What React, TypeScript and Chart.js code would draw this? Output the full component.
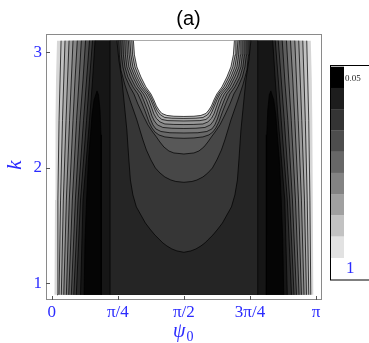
import React, { useEffect, useRef } from 'react';
import { Chart, registerables } from 'chart.js';

Chart.register(...registerables);

const PI = Math.PI;

// ---- axes ----
const xTickValues = [0, PI / 4, PI / 2, (3 * PI) / 4, PI];
const xTickLabels = ['0', 'π/4', 'π/2', '3π/4', 'π'];
const yTickValues = [1, 2, 3];
const yTickLabels = ['1', '2', '3'];
const xRange = [-0.068, 3.212];
const yRange = [0.855, 3.158];

// ---- data domain ----
const kBottom = 0.9;
const kTop = 3.1;

// ---- side bands (left half; right half is the mirror image about π/2) ----
const sideK = [0.9, 1.72, 2.41, 2.76, 3.1];
const sideLines = [
  [0.033, 0.039, 0.045, 0.051, 0.063],
  [0.063, 0.073, 0.087, 0.099, 0.111],
  [0.087, 0.105, 0.128, 0.143, 0.158],
  [0.114, 0.138, 0.17, 0.188, 0.206],
  [0.143, 0.174, 0.212, 0.233, 0.253],
  [0.174, 0.209, 0.253, 0.277, 0.304],
  [0.202, 0.245, 0.295, 0.325, 0.352],
  [0.233, 0.281, 0.336, 0.372, 0.402],
  [0.262, 0.313, 0.378, 0.414, 0.449],
  [0.292, 0.342, 0.414, 0.449, 0.485],
  [0.342, 0.372, 0.449, 0.485, 0.515],
];
const sideColors = [
  '#d6d6d6', '#c2c2c2', '#aeaeae', '#9a9a9a', '#868686', '#727272',
  '#5e5e5e', '#4b4b4b', '#3a3a3a', '#2a2a2a', '#161616',
];

// darkest spike: [ψ0, k]
const spikeEdge = [
  [0.384, 0.9], [0.396, 1.375], [0.414, 1.721], [0.437, 2.068], [0.461, 2.284],
  [0.479, 2.457], [0.503, 2.587], [0.538, 2.665], [0.556, 2.631], [0.574, 2.5],
  [0.586, 2.284], [0.59, 1.721], [0.592, 0.9],
];
const spikeColor = '#050505';

// plateau edge (ψ0) and colour
const plateauX = 0.693;
const plateauColor = '#252525';

// ---- U-shaped contours: [k, half-width from π/2] ----
const U1 = [[3.1, 0.796], [2.933, 0.773], [2.76, 0.737], [2.587, 0.713], [2.327, 0.678], [2.068, 0.654], [1.894, 0.636], [1.765, 0.606], [1.661, 0.565], [1.591, 0.511], [1.522, 0.458], [1.47, 0.404], [1.418, 0.345], [1.375, 0.285], [1.349, 0.25], [1.323, 0.202], [1.297, 0.143], [1.28, 0.083], [1.268, 0]];
const U2 = [[3.1, 0.773], [2.977, 0.767], [2.847, 0.749], [2.717, 0.701], [2.587, 0.642], [2.5, 0.6], [2.414, 0.559], [2.327, 0.523], [2.241, 0.487], [2.154, 0.446], [2.068, 0.392], [1.998, 0.339], [1.955, 0.285], [1.92, 0.226], [1.894, 0.155], [1.881, 0.095], [1.874, 0]];
const U3 = [[3.1, 0.749], [2.977, 0.743], [2.873, 0.725], [2.786, 0.695], [2.7, 0.642], [2.639, 0.594], [2.552, 0.547], [2.457, 0.487], [2.371, 0.428], [2.319, 0.38], [2.267, 0.327], [2.223, 0.285], [2.18, 0.238], [2.145, 0.178], [2.128, 0.119], [2.119, 0]];
const U4 = [[3.1, 0.725], [2.977, 0.719], [2.873, 0.701], [2.786, 0.666], [2.7, 0.606], [2.639, 0.547], [2.57, 0.505], [2.483, 0.458], [2.397, 0.416], [2.345, 0.38], [2.31, 0.345], [2.284, 0.297], [2.267, 0.226], [2.258, 0.119], [2.255, 0]];
const U5 = [[3.1, 0.701], [2.977, 0.695], [2.873, 0.678], [2.786, 0.636], [2.7, 0.576], [2.639, 0.511], [2.578, 0.475], [2.5, 0.434], [2.422, 0.398], [2.371, 0.368], [2.336, 0.333], [2.314, 0.273], [2.303, 0.166], [2.301, 0]];
const U6 = [[3.1, 0.678], [2.977, 0.672], [2.873, 0.654], [2.786, 0.606], [2.7, 0.547], [2.639, 0.481], [2.587, 0.446], [2.517, 0.41], [2.448, 0.38], [2.405, 0.351], [2.371, 0.315], [2.349, 0.25], [2.342, 0.143], [2.34, 0]];
const U7 = [[3.1, 0.66], [2.977, 0.65], [2.873, 0.63], [2.786, 0.582], [2.7, 0.523], [2.639, 0.452], [2.587, 0.416], [2.526, 0.386], [2.466, 0.357], [2.427, 0.327], [2.397, 0.285], [2.379, 0.226], [2.375, 0.119], [2.374, 0]];
const U8 = [[3.1, 0.642], [2.977, 0.63], [2.873, 0.606], [2.786, 0.559], [2.7, 0.499], [2.639, 0.428], [2.587, 0.392], [2.535, 0.363], [2.483, 0.333], [2.444, 0.303], [2.418, 0.262], [2.408, 0.19], [2.405, 0]];
const U9 = [[3.1, 0.618], [2.977, 0.61], [2.873, 0.582], [2.786, 0.535], [2.7, 0.475], [2.639, 0.41], [2.587, 0.374], [2.535, 0.345], [2.492, 0.315], [2.457, 0.279], [2.435, 0.226], [2.429, 0.143], [2.427, 0]];
const U10 = [[3.1, 0.6], [2.977, 0.588], [2.873, 0.559], [2.786, 0.511], [2.7, 0.452], [2.639, 0.392], [2.587, 0.357], [2.535, 0.327], [2.5, 0.297], [2.47, 0.262], [2.453, 0.202], [2.446, 0.119], [2.444, 0]];
const uContours = [U1, U2, U3, U4, U5, U6, U7, U8, U9, U10];
const uColors = ['#363636', '#474747', '#585858', '#686868', '#787878', '#888888', '#999999', '#aaaaaa', '#bcbcbc', '#ffffff'];

// ---- colour bar ----
const barColors = ['#000000', '#1d1d1d', '#343434', '#4d4d4d', '#676767', '#838383', '#a0a0a0', '#c2c2c2', '#e2e2e2'];
const barTopLabel = '0.05';
const barBottomLabel = '1';

const BLUE = '#2b2bff';
const lineColor = 'rgba(0,0,0,0.9)';

type P = { x: number; y: number };

function buildDatasets() {
  const fills: any[] = [];
  const lines: any[] = [];
  const fillDs = (data: P[], color: string) => ({
    data, fill: 'shape', backgroundColor: color, borderColor: 'rgba(0,0,0,0)',
    borderWidth: 0, pointRadius: 0, pointHoverRadius: 0, tension: 0,
  });
  const lineDs = (data: P[]) => ({
    data, fill: false, borderColor: lineColor, borderWidth: 0.8, pointRadius: 0,
    pointHoverRadius: 0, tension: 0, borderJoinStyle: 'round',
  });

  sideLines.forEach((line, i) => {
    const left = sideK.map((k, j) => ({ x: line[j], y: k }));
    const right = sideK.map((k, j) => ({ x: PI - line[j], y: k })).reverse();
    fills.push(fillDs([...left, ...right, left[0]], sideColors[i]));
    if (i > 0) {
      lines.push(lineDs(left));
      lines.push(lineDs(sideK.map((k, j) => ({ x: PI - line[j], y: k }))));
    }
  });

  const spikeL = spikeEdge.map(([x, k]) => ({ x, y: k }));
  const spikeR = spikeEdge.map(([x, k]) => ({ x: PI - x, y: k }));
  fills.push(fillDs([...spikeL, spikeL[0]], spikeColor));
  fills.push(fillDs([...spikeR, spikeR[0]], spikeColor));
  lines.push(lineDs(spikeL));
  lines.push(lineDs(spikeR));

  const pl = [
    { x: plateauX, y: kBottom }, { x: plateauX, y: kTop },
    { x: PI - plateauX, y: kTop }, { x: PI - plateauX, y: kBottom },
  ];
  fills.push(fillDs([...pl, pl[0]], plateauColor));
  lines.push(lineDs([pl[0], pl[1]]));
  lines.push(lineDs([pl[3], pl[2]]));

  uContours.forEach((u, i) => {
    const left = u.map(([k, w]) => ({ x: PI / 2 - w, y: k }));
    const right = u.map(([k, w]) => ({ x: PI / 2 + w, y: k })).reverse().slice(1);
    const path = [...left, ...right];
    fills.push(fillDs([...path, left[0]], uColors[i]));
    lines.push(lineDs(path));
  });

  const all = [...fills, ...lines];
  const n = all.length;
  return all.map((d, i) => ({ ...d, order: n - i }));
}

const decorPlugin = {
  id: 'decor',
  afterDraw(chart: any) {
    const { ctx, chartArea: a, scales } = chart;
    const xs = scales.x;
    const ys = scales.y;
    ctx.save();
    ctx.strokeStyle = '#8a8a8a';
    ctx.lineWidth = 1;
    ctx.strokeRect(a.left + 0.5, a.top + 0.5, a.right - a.left - 1, a.bottom - a.top - 1);
    ctx.strokeStyle = '#555';
    ctx.beginPath();
    xTickValues.forEach((v) => {
      const p = Math.round(xs.getPixelForValue(v)) + 0.5;
      ctx.moveTo(p, a.bottom);
      ctx.lineTo(p, a.bottom - 4);
    });
    yTickValues.forEach((v) => {
      const p = Math.round(ys.getPixelForValue(v)) + 0.5;
      ctx.moveTo(a.left, p);
      ctx.lineTo(a.left + 4, p);
    });
    ctx.stroke();

    ctx.fillStyle = '#000';
    ctx.font = '20px "Liberation Sans"';
    ctx.textAlign = 'center';
    ctx.textBaseline = 'alphabetic';
    ctx.fillText('(a)', 188.5, 25);

    ctx.save();
    ctx.translate(21, 165);
    ctx.rotate(-PI / 2);
    ctx.fillStyle = BLUE;
    ctx.font = 'italic 21px "Liberation Serif"';
    ctx.textAlign = 'center';
    ctx.fillText('k', 0, 0);
    ctx.restore();

    ctx.fillStyle = BLUE;
    ctx.textAlign = 'left';
    ctx.font = 'italic 20px "Liberation Serif"';
    ctx.fillText('ψ', 173, 337);
    ctx.font = '14px "Liberation Serif"';
    ctx.fillText('0', 186.5, 341);

    const bx = 331, bw = 13, by = 66.7, bh = 191;
    const sh = bh / barColors.length;
    barColors.forEach((c, i) => {
      ctx.fillStyle = c;
      ctx.fillRect(bx, by + i * sh, bw, sh + 0.3);
    });
    ctx.strokeStyle = '#000';
    ctx.lineWidth = 1;
    ctx.strokeRect(330.5, 65.5, 50, 214.5);
    ctx.fillStyle = '#222';
    ctx.font = '9px "Liberation Serif"';
    ctx.fillText(barTopLabel, 345, 80.5);
    ctx.fillStyle = BLUE;
    ctx.font = '17px "Liberation Serif"';
    ctx.fillText(barBottomLabel, 346, 273);
    ctx.restore();
  },
};

export default function App() {
  const ref = useRef<HTMLCanvasElement | null>(null);
  useEffect(() => {
    if (!ref.current) return;
    const chart = new Chart(ref.current, {
      type: 'line',
      data: { datasets: buildDatasets() as any },
      options: {
        animation: false,
        responsive: false,
        events: [],
        layout: { padding: { left: 0, top: 34, right: 47, bottom: 0 } },
        plugins: { legend: { display: false }, tooltip: { enabled: false }, title: { display: false } },
        scales: {
          x: {
            type: 'linear',
            min: xRange[0],
            max: xRange[1],
            grid: { display: false, drawTicks: false },
            border: { display: false },
            afterBuildTicks: (s: any) => { s.ticks = xTickValues.map((v) => ({ value: v })); },
            afterFit: (s: any) => { s.height = 43; },
            ticks: {
              autoSkip: false, maxRotation: 0, padding: 2, color: BLUE,
              font: { family: '"Liberation Serif"', size: 17 },
              callback: (_v: any, i: number) => xTickLabels[i],
            },
          },
          y: {
            type: 'linear',
            min: yRange[0],
            max: yRange[1],
            grid: { display: false, drawTicks: false },
            border: { display: false },
            afterBuildTicks: (s: any) => { s.ticks = yTickValues.map((v) => ({ value: v })); },
            afterFit: (s: any) => { s.width = 46; },
            ticks: {
              autoSkip: false, padding: 4, color: BLUE,
              font: { family: '"Liberation Serif"', size: 17 },
              callback: (_v: any, i: number) => yTickLabels[i],
            },
          },
        },
      } as any,
      plugins: [decorPlugin],
    });
    return () => chart.destroy();
  }, []);
  return (
    <div style={{ position: 'absolute', left: 0, top: 0, width: 369, height: 343 }}>
      <canvas ref={ref} width={369} height={343} style={{ width: 369, height: 343, display: 'block' }} />
    </div>
  );
}
